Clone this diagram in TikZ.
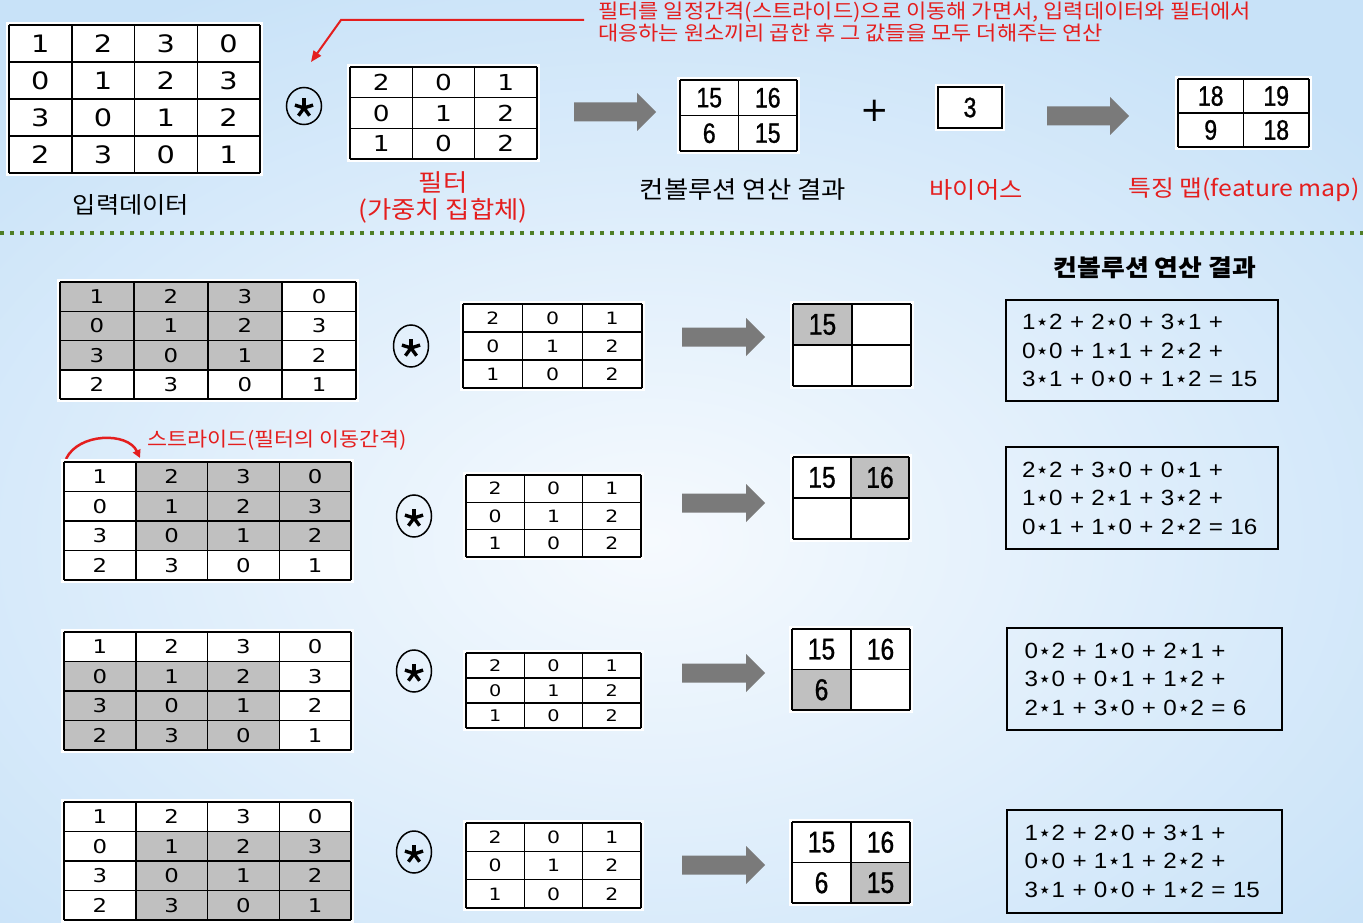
\documentclass[tikz,border=0pt]{standalone}
\usepackage{fontspec}
\usetikzlibrary{arrows.meta,calc}
\newfontfamily\kr[FakeStretch=1.1]{Noto Sans CJK KR}
\newfontfamily\digf[FakeStretch=1.2]{DejaVu Sans}
\newfontfamily\outf[FakeStretch=0.82,FakeBold=1]{Liberation Sans}
\newfontfamily\frmf[FakeStretch=1.1]{Liberation Sans}
\newfontfamily\symf{DejaVu Sans}
\definecolor{bgblue}{RGB}{200,226,248}
\definecolor{bgwhite}{RGB}{246,250,254}
\definecolor{redc}{RGB}{228,30,30}
\definecolor{arrowgray}{RGB}{122,122,122}
\definecolor{cellgray}{RGB}{192,192,192}
\definecolor{dotgreen}{RGB}{78,125,38}
\newcommand{\fsz}[1]{\fontsize{#1}{#1}\selectfont}
\newcommand{\mst}{{\symf ⋆}}
\tikzset{
  gridline/.style={line width=1.5pt, draw=black},
  redline/.style={line width=2pt, draw=redc},
  fbox/.style={draw=black, line width=2pt, align=left, text width=240, inner xsep=13,
    font=\frmf\fontsize{22}{28.5}\selectfont},
  lbl/.style={font=\kr\fsz{23}, inner sep=0pt},
}
% #1 name, #2 x0, #3 y0, #4 w, #5 h, #6 ncols, #7 nrows, #8 values, #9 font
\newcommand{\matcells}[9]{%
  \foreach \k in {0,...,#6} \draw[gridline] ({#2+\k*#4},{#3}) -- ({#2+\k*#4},{#3+#7*#5});
  \foreach \k in {0,...,#7} \draw[gridline] ({#2},{#3+\k*#5}) -- ({#2+#6*#4},{#3+\k*#5});
  \foreach \v [count=\i from 0] in {#8} {%
    \pgfmathtruncatemacro\rr{floor(\i/#6)}%
    \pgfmathtruncatemacro\cc{mod(\i,#6)}%
    \node[font=#9, inner sep=0pt] (#1-\i) at ({#2+(\cc+0.5)*#4},{#3+(\rr+0.5)*#5}) {\v};
  }%
}
\newcommand{\halo}[4]{\fill[white] ({#1-3},{#2-3}) rectangle ({#3+3},{#4+3});}
% #1 x0, #2 y0, #3 w, #4 h, #5 c0, #6 r0, #7 c1, #8 r1
\newcommand{\shadecells}[8]{\fill[cellgray] ({#1+#5*#3},{#2+#6*#4}) rectangle ({#1+(#7+1)*#3},{#2+(#8+1)*#4});}
\newcommand{\barrow}[3]{%
  \fill[arrowgray] ({#1},{#3-9.5}) -- ({#2-19},{#3-9.5}) -- ({#2-19},{#3-19}) -- ({#2},{#3})
    -- ({#2-19},{#3+19}) -- ({#2-19},{#3+9.5}) -- ({#1},{#3+9.5}) -- cycle;}
\newcommand{\cstar}[4]{%
  \coordinate (#1) at (#2,#3);
  \draw[line width=1.5pt] (#1) ellipse [x radius=17.5, y radius=#4];
  \foreach \a in {90,18,162,234,306} \draw[line width=3.4pt] ($(#1)+(0,2)$) -- ++(\a:9.5pt);
}
\begin{document}
\begin{tikzpicture}[x=1pt,y=-1pt]
\useasboundingbox (0,0) rectangle (1363,923);
\begin{scope}
\clip (0,0) rectangle (1363,923);
\fill[bgblue] (0,0) rectangle (1363,923);
\shade[inner color=bgwhite, outer color=bgblue] (650,540) ellipse [x radius=950, y radius=620];
\end{scope}

% ---------- top ----------
\halo{9}{25}{260}{173}
\matcells{tin}{9}{25}{62.75}{37}{4}{4}{1,2,3,0,0,1,2,3,3,0,1,2,2,3,0,1}{\digf\fsz{24}}
\node[lbl, font=\kr\fsz{23}] (tinlbl) at (131,205) {입력데이터};

\cstar{tstar}{304}{106}{18.5}

\halo{350}{67}{537}{159}
\matcells{tfil}{350}{67}{62.33}{30.67}{3}{3}{2,0,1,0,1,2,1,0,2}{\digf\fsz{22}}
\node[lbl, font=\kr\fsz{24}, text=redc] (tfillbl1) at (443,183) {필터};
\node[lbl, font=\kr\fsz{24}, text=redc] (tfillbl2) at (443,211) {(가중치 집합체)};

\node[anchor=north west, align=left, text=redc, inner sep=0pt,
  font=\kr\fontsize{20}{21.5}\selectfont] (note) at (598,2)
  {필터를 일정간격(스트라이드)으로 이동해 가면서, 입력데이터와 필터에서\\대응하는 원소끼리 곱한 후 그 값들을 모두 더해주는 연산};
\coordinate (n0) at (584,20);
\coordinate (n1) at (341,20);
\coordinate (n2) at (311,62);
\draw[redline, -{Triangle[length=11pt,width=9pt]}] (n0) -- (n1) -- (n2);

\barrow{574}{656}{112}

\halo{680}{80}{797}{151}
\matcells{tconv}{680}{80}{58.5}{35.5}{2}{2}{15,16,6,15}{\outf\fsz{28}}
\node[lbl, font=\kr\fsz{24}] (tconvlbl) at (743,190) {컨볼루션 연산 결과};

\node[font=\symf\fsz{34}, inner sep=0pt] (plus) at (875,111) {+};

\halo{938}{87}{1002}{128}
\node[draw=black, line width=1.6pt, minimum width=64, minimum height=41, inner sep=0pt,
  font=\outf\fsz{28}] (bias) at (970,107.5) {3};
\node[lbl, text=redc] (biaslbl) at (976,190) {바이어스};

\barrow{1047}{1129}{116}

\halo{1178}{79}{1309}{147}
\matcells{tfm}{1178}{79}{65.5}{34}{2}{2}{18,19,9,18}{\outf\fsz{28}}
\node[lbl, font=\kr\fsz{22.6}, text=redc] (tfmlbl) at (1244,190) {특징 맵(feature map)};

\coordinate (dl) at (0,232.5);
\coordinate (dr) at (1363,232.5);
\draw[dotgreen, line width=4pt, dash pattern=on 4pt off 6pt] (dl) -- (dr);

% ---------- bottom ----------
\node[lbl, font=\kr\bfseries\fsz{23.5}] (hdr) at (1155,268) {컨볼루션 연산 결과};

% row 1
\halo{60}{282}{356}{399}
\shadecells{60}{282}{74}{29.25}{0}{0}{2}{2}
\matcells{in1}{60}{282}{74}{29.25}{4}{4}{1,2,3,0,0,1,2,3,3,0,1,2,2,3,0,1}{\digf\fsz{19}}
\cstar{s1}{411}{346}{21}
\halo{463}{304}{642}{388}
\matcells{f1}{463}{304}{59.67}{28}{3}{3}{2,0,1,0,1,2,1,0,2}{\digf\fsz{17}}
\barrow{682}{765}{337}
\halo{793}{304}{911}{386}
\shadecells{793}{304}{59}{41}{0}{0}{0}{0}
\matcells{o1}{793}{304}{59}{41}{2}{2}{15,{},{},{}}{\outf\fsz{30}}
\node[fbox, minimum width=272, minimum height=101] (e1) at (1142,350.5)
  {1\mst2 + 2\mst0 + 3\mst1 +\\0\mst0 + 1\mst1 + 2\mst2 +\\3\mst1 + 0\mst0 + 1\mst2 = 15};

% row 2
\node[lbl, font=\kr\fsz{19.8}, text=redc, anchor=west] (stride) at (147,440) {스트라이드(필터의 이동간격)};
\coordinate (sa) at (66,459);
\coordinate (sb) at (140,458);
\draw[redline, line width=2.5pt, -{Triangle[length=8pt,width=8pt]}] (sa) to[out=65,in=115] (sb);
\halo{64}{462}{351}{580}
\shadecells{64}{462}{71.75}{29.5}{1}{0}{3}{2}
\matcells{in2}{64}{462}{71.75}{29.5}{4}{4}{1,2,3,0,0,1,2,3,3,0,1,2,2,3,0,1}{\digf\fsz{19}}
\cstar{s2}{414}{516}{21}
\halo{466}{475}{641}{557}
\matcells{f2}{466}{475}{58.33}{27.33}{3}{3}{2,0,1,0,1,2,1,0,2}{\digf\fsz{17}}
\barrow{682}{765}{503}
\halo{793}{457}{909}{539}
\shadecells{793}{457}{58}{41}{1}{0}{1}{0}
\matcells{o2}{793}{457}{58}{41}{2}{2}{15,16,{},{}}{\outf\fsz{30}}
\node[fbox, minimum width=272, minimum height=102] (e2) at (1142,498)
  {2\mst2 + 3\mst0 + 0\mst1 +\\1\mst0 + 2\mst1 + 3\mst2 +\\0\mst1 + 1\mst0 + 2\mst2 = 16};

% row 3
\halo{64}{632}{351}{750}
\shadecells{64}{632}{71.75}{29.5}{0}{1}{2}{3}
\matcells{in3}{64}{632}{71.75}{29.5}{4}{4}{1,2,3,0,0,1,2,3,3,0,1,2,2,3,0,1}{\digf\fsz{19}}
\cstar{s3}{414}{671}{21}
\halo{466}{653}{641}{728}
\matcells{f3}{466}{653}{58.33}{25}{3}{3}{2,0,1,0,1,2,1,0,2}{\digf\fsz{16}}
\barrow{682}{765}{673}
\halo{792}{629}{910}{710}
\shadecells{792}{629}{59}{40.5}{0}{1}{0}{1}
\matcells{o3}{792}{629}{59}{40.5}{2}{2}{15,16,6,{}}{\outf\fsz{30}}
\node[fbox, minimum width=275, minimum height=102] (e3) at (1144.5,679)
  {0\mst2 + 1\mst0 + 2\mst1 +\\3\mst0 + 0\mst1 + 1\mst2 +\\2\mst1 + 3\mst0 + 0\mst2 = 6};

% row 4
\halo{64}{802}{351}{920}
\shadecells{64}{802}{71.75}{29.5}{1}{1}{3}{3}
\matcells{in4}{64}{802}{71.75}{29.5}{4}{4}{1,2,3,0,0,1,2,3,3,0,1,2,2,3,0,1}{\digf\fsz{19}}
\cstar{s4}{414}{852}{21}
\halo{466}{823}{641}{908}
\matcells{f4}{466}{823}{58.33}{28.33}{3}{3}{2,0,1,0,1,2,1,0,2}{\digf\fsz{17}}
\barrow{682}{765}{865}
\halo{792}{822}{910}{903}
\shadecells{792}{822}{59}{40.5}{1}{1}{1}{1}
\matcells{o4}{792}{822}{59}{40.5}{2}{2}{15,16,6,15}{\outf\fsz{30}}
\node[fbox, minimum width=275, minimum height=103] (e4) at (1144.5,861)
  {1\mst2 + 2\mst0 + 3\mst1 +\\0\mst0 + 1\mst1 + 2\mst2 +\\3\mst1 + 0\mst0 + 1\mst2 = 15};
\end{tikzpicture}
\end{document}
